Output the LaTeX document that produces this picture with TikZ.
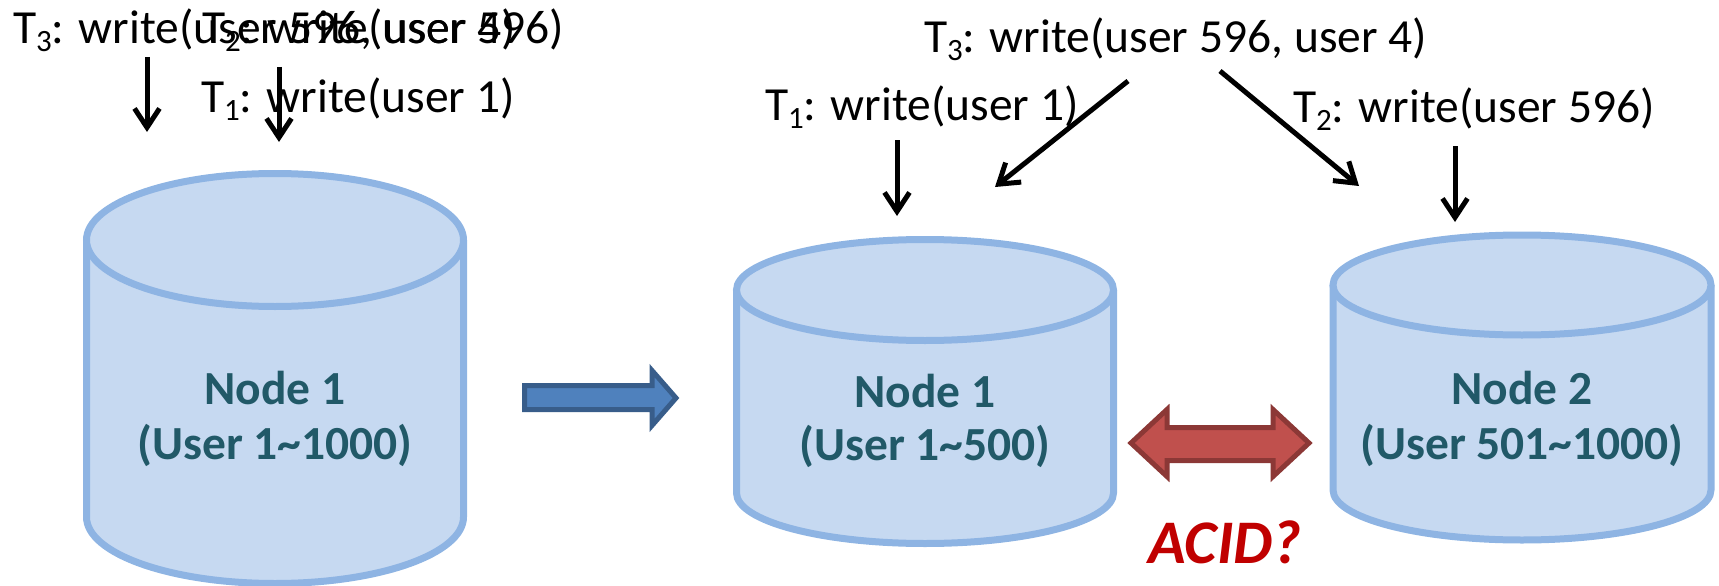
\documentclass[tikz,border=0pt]{standalone}
\usepackage{fontspec}
\setmainfont{Carlito}
\usetikzlibrary{arrows.meta}

\definecolor{cylfill}{HTML}{C6D9F1}
\definecolor{cylline}{HTML}{8EB4E3}
\definecolor{nodetxt}{HTML}{215968}
\definecolor{bluefill}{HTML}{4F81BD}
\definecolor{blueline}{HTML}{385D8A}
\definecolor{redfill}{HTML}{C0504D}
\definecolor{redline}{HTML}{8C3836}
\definecolor{acidred}{HTML}{C00000}

% lowered, smaller index for transaction names
\newcommand\tsub[1]{\raisebox{-8pt}{\fontsize{31}{31}\selectfont #1}}

\tikzset{
  lbl/.style={inner sep=0pt, outer sep=0pt, font=\fontsize{47.5}{57}\selectfont},
  dblbl/.style={inner sep=0pt, outer sep=0pt, anchor=base, text=nodetxt,
    font=\fontsize{47.5}{57}\selectfont\bfseries},
  acidlbl/.style={inner sep=0pt, outer sep=0pt, anchor=base, text=acidred,
    font=\fontsize{62}{62}\selectfont\bfseries\itshape},
  wr/.style={line width=5pt, -{Straight Barb[length=19pt, width=25pt]}},
  pics/dbcyl/.style args={#1/#2/#3}{code={
    \fill[cylfill] (-#1,0) -- (-#1,#3)
      arc[start angle=180, end angle=0, x radius=#1, y radius=#2] -- (#1,0) -- cycle;
    \draw[cylline, line width=7pt] (-#1,0) -- (-#1,#3)
      arc[start angle=180, end angle=0, x radius=#1, y radius=#2] -- (#1,0);
    \filldraw[fill=cylfill, draw=cylline, line width=7pt] (0,0) ellipse[x radius=#1, y radius=#2];
  }},
}

\begin{document}
\begin{tikzpicture}[x=1pt, y=-1pt]
\useasboundingbox (0,0) rectangle (1719,586);

% ---- single database ----
\pic (cylA) at (275,240) {dbcyl={188.5/66.5/277}};
\node[dblbl] (nA1) at (275,404) {Node 1};
\node[dblbl] (nA2) at (275,459) {(User 1\char`~1000)};

\node[lbl, anchor=base west] (tA3) at (13,44) {T\tsub{3}: write(user 596, user 4)};
\node[lbl, anchor=base west] (tA2) at (202,44) {T\tsub{2}: write(user 596)};
\node[lbl, anchor=base west] (tA1) at (201,112) {T\tsub{1}: write(user 1)};

\coordinate (wA1s) at (147,57);  \coordinate (wA1e) at (147,132);
\coordinate (wA2s) at (279,67);  \coordinate (wA2e) at (279,142);
\draw[wr] (wA1s) -- (wA1e);
\draw[wr] (wA2s) -- (wA2e);

% ---- split arrow ----
\filldraw[fill=bluefill, draw=blueline, line width=5pt, line join=miter]
  (524.5,385.5) -- (652,385.5) -- (652,370.5) -- (676,398) -- (652,425.5)
  -- (652,409.5) -- (524.5,409.5) -- cycle;

% ---- partitioned databases ----
\pic (cylB) at (925,290) {dbcyl={188.5/50.5/203}};
\node[dblbl] (nB1) at (925,407) {Node 1};
\node[dblbl] (nB2) at (925,460) {(User 1\char`~500)};

\pic (cylC) at (1522,285) {dbcyl={189/50/205}};
\node[dblbl] (nC1) at (1522,404) {Node 2};
\node[dblbl] (nC2) at (1522,459) {(User 501\char`~1000)};

\node[lbl, anchor=base west] (tB1) at (765,120) {T\tsub{1}: write(user 1)};
\node[lbl, anchor=base west] (tB3) at (924,53) {T\tsub{3}: write(user 596, user 4)};
\node[lbl, anchor=base west] (tC2) at (1293,122) {T\tsub{2}: write(user 596)};

\coordinate (wB1s) at (897,140);  \coordinate (wB1e) at (897,216);
\coordinate (wC2s) at (1455,146); \coordinate (wC2e) at (1455,222);
\coordinate (wB3s) at (1128,81);  \coordinate (wB3e) at (995,187);
\coordinate (wC3s) at (1220,71);  \coordinate (wC3e) at (1359,186);
\draw[wr] (wB1s) -- (wB1e);
\draw[wr] (wC2s) -- (wC2e);
\draw[wr] (wB3s) -- (wB3e);
\draw[wr] (wC3s) -- (wC3e);

% ---- consistency between the two nodes ----
\filldraw[fill=redfill, draw=redline, line width=5pt, line join=miter]
  (1131,443) -- (1167,409.5) -- (1167,427.5) -- (1273,427.5) -- (1273,409.5)
  -- (1309,443) -- (1273,476.5) -- (1273,460.5) -- (1167,460.5) -- (1167,476.5) -- cycle;
\node[acidlbl] (acid) at (1225,563) {ACID?};
\end{tikzpicture}
\end{document}
